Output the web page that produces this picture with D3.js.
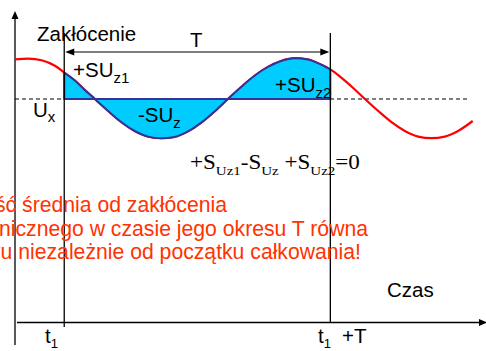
<!DOCTYPE html>
<html>
<head>
<meta charset="utf-8">
<script src="https://cdn.jsdelivr.net/npm/d3@7"></script>
<style>
  html, body { margin: 0; padding: 0; background: #fff; overflow: hidden; }
  svg { display: block; }
</style>
</head>
<body>
<svg id="chart" width="486" height="351"></svg>
<script>
// Disturbance signal: time in ms, value relative to the mean level Ux (in amplitude units)
const time   = [0, 1, 2, 3, 3.7, 4.5, 5.2, 6.0, 7, 8, 9, 10, 11, 12, 13, 14, 15, 16.0,
                17, 18, 19, 20, 21, 22, 23, 23.7, 24.5, 25.5, 26.3, 27.3, 28.3, 29.3,
                30.3, 31.3, 32.3, 33.3, 34.4];
const signal = [0.99, 1.01, 0.97, 0.83, 0.66, 0.46, 0.24, 0.0, -0.30, -0.58, -0.80, -0.94,
                -0.98, -0.95, -0.81, -0.59, -0.31, 0.0, 0.30, 0.58, 0.80, 0.95, 1.02, 0.99,
                0.86, 0.74, 0.54, 0.25, 0.0, -0.30, -0.58, -0.80, -0.94, -0.98, -0.94,
                -0.80, -0.55];

// Integration window [t1, t1 + T]
const t1 = 3.7;
const period = 20;
const timeDomain = [0, 35.4];
const meanLineEnd = 34.0;

// Texts
const equationParts = [["+S", false], ["Uz1", true], ["-S", false], ["Uz", true],
                       [" +S", false], ["Uz2", true], ["=0", false]];
const noteLines = [
  "Wartość średnia od zakłócenia",
  "harmonicznego w czasie jego okresu T równa",
  "zeru niezależnie od początku całkowania!"
];

const svg = d3.select("#chart");
const x = d3.scaleLinear().domain(timeDomain).range([15, 486]);
const y = d3.scaleLinear().domain([-1, 1]).range([139, 59]);

const pts = time.map((t, i) => ({ t, v: signal[i] }));
const windowPts = pts.filter(d => d.t >= t1 - 1e-9 && d.t <= t1 + period + 1e-9);

const SANS = "'Liberation Sans', Arial, sans-serif";
const SERIF = "'Liberation Serif', 'Times New Roman', serif";

function triangle(tipX, tipY, dir, len, half) {
  // dir: 'up' | 'left' | 'right'
  let p;
  if (dir === "up") p = [[tipX, tipY], [tipX - half, tipY + len], [tipX + half, tipY + len]];
  else if (dir === "left") p = [[tipX, tipY], [tipX + len, tipY - half], [tipX + len, tipY + half]];
  else p = [[tipX, tipY], [tipX - len, tipY - half], [tipX - len, tipY + half]];
  svg.append("path").attr("d", "M" + p.map(q => q.join(",")).join("L") + "Z").attr("fill", "#000");
}

// Axes
svg.append("line").attr("x1", x(0)).attr("x2", x(0)).attr("y1", 345).attr("y2", 18)
  .attr("stroke", "#000").attr("stroke-width", 1.3);
triangle(x(0), 11, "up", 8, 3.5);
svg.append("line").attr("x1", 17).attr("x2", 480).attr("y1", 322.5).attr("y2", 322.5)
  .attr("stroke", "#000").attr("stroke-width", 1.3);
triangle(487, 322.5, "right", 8, 3.5);

// Mean level Ux
svg.append("line").attr("x1", x(0)).attr("x2", x(meanLineEnd)).attr("y1", y(0)).attr("y2", y(0))
  .attr("stroke", "#000").attr("stroke-width", 1).attr("stroke-dasharray", "4,3");

// Signal
const line = d3.line().x(d => x(d.t)).y(d => y(d.v)).curve(d3.curveMonotoneX);
svg.append("path").datum(pts).attr("d", line)
  .attr("fill", "none").attr("stroke", "#ff0000").attr("stroke-width", 2.2);

// Areas over one period
const area = d3.area().x(d => x(d.t)).y0(y(0)).y1(d => y(d.v)).curve(d3.curveMonotoneX);
svg.append("path").datum(windowPts).attr("d", area)
  .attr("fill", "#00ccff").attr("stroke", "#333399").attr("stroke-width", 2)
  .attr("stroke-linejoin", "round");

// Window boundaries
svg.append("line").attr("x1", x(t1)).attr("x2", x(t1)).attr("y1", 33).attr("y2", 327)
  .attr("stroke", "#000").attr("stroke-width", 1.3);
svg.append("line").attr("x1", x(t1 + period)).attr("x2", x(t1 + period)).attr("y1", 33).attr("y2", 323)
  .attr("stroke", "#000").attr("stroke-width", 1.3);

// Period dimension arrow
svg.append("line").attr("x1", x(t1) + 6).attr("x2", x(t1 + period) - 6).attr("y1", 52).attr("y2", 52)
  .attr("stroke", "#000").attr("stroke-width", 1.2);
triangle(x(t1) + 1, 52, "left", 9, 3.5);
triangle(x(t1 + period) - 1, 52, "right", 9, 3.5);

function label(px, py, main, sub, opts = {}) {
  const size = opts.size || 20.5;
  const subSize = opts.subSize || 15;
  const t = svg.append("text").attr("x", px).attr("y", py)
    .attr("font-family", opts.family || SANS).attr("font-size", size)
    .attr("fill", opts.fill || "#000").attr("text-anchor", opts.anchor || "start");
  t.append("tspan").text(main);
  if (sub) {
    t.append("tspan").attr("dy", opts.subDy || 6).attr("font-size", subSize).text(sub);
  }
  if (opts.after) {
    t.append("tspan").attr("dy", -(opts.subDy || 6)).attr("dx", opts.afterDx || 0).text(opts.after);
  }
  return t;
}

label(37, 41, "Zakłócenie");
label(x(t1 + period / 2) - 1, 47, "T", null, { anchor: "middle" });
label(73, 77, "+SU", "z1");
label(33, 117, "U", "x", { subDy: 5 });
label(138, 122, "-SU", "z");
label(275, 92, "+SU", "z2");
label(387, 297, "Czas");
label(45, 343, "t", "1", { subDy: 5, subSize: 13 });
label(318, 343, "t", "1", { subDy: 5, subSize: 13, after: "+T", afterDx: 11 });

// Zero-sum equation
const eq = svg.append("text").attr("font-family", SERIF).attr("font-size", 20).attr("fill", "#000");
let prevSub = false;
equationParts.forEach(([s, isSub]) => {
  const ts = eq.append("tspan").text(s.replace(/ /g, "\u00a0"));
  if (isSub && !prevSub) ts.attr("dy", 6).attr("font-size", 13);
  else if (!isSub && prevSub) ts.attr("dy", -6);
  if (isSub) ts.attr("font-size", 13);
  prevSub = isSub;
});
const eqW = eq.node().getBBox().width;
eq.attr("transform", `translate(190,169) scale(${170 / eqW},1)`);

// Note text (red), right-aligned lines
const noteEnds = [227, 368, 361];
const noteBase = [212, 235.5, 259];
noteLines.forEach((s, i) => {
  svg.append("text").attr("x", noteEnds[i]).attr("y", noteBase[i])
    .attr("text-anchor", "end").attr("font-family", SANS).attr("font-size", 21.2)
    .attr("fill", "#ff3300").text(s);
});
</script>
</body>
</html>
